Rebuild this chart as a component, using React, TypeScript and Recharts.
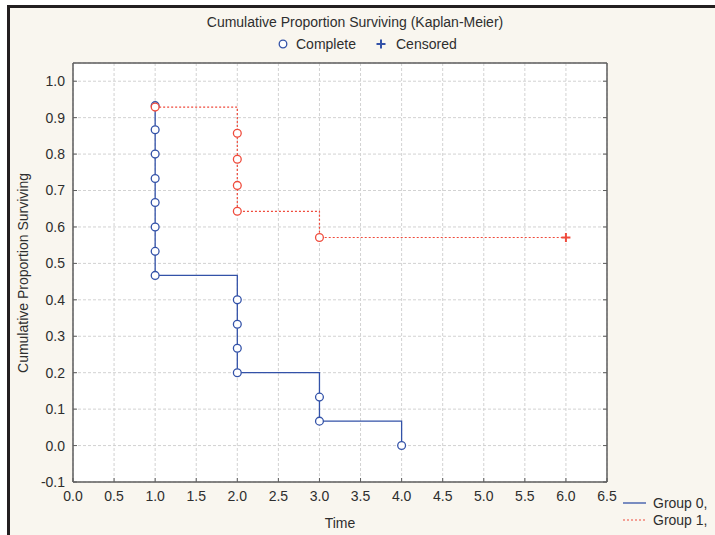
import React from 'react';
import { ComposedChart, Line, XAxis, YAxis, CartesianGrid } from 'recharts';

const group0Times = [1, 1, 1, 1, 1, 1, 1, 1, 2, 2, 2, 2, 3, 3, 4];
const group0Surv = [0.933, 0.867, 0.8, 0.733, 0.667, 0.6, 0.533, 0.467, 0.4, 0.333, 0.267, 0.2, 0.133, 0.067, 0.0];
const group0Censored = [0, 0, 0, 0, 0, 0, 0, 0, 0, 0, 0, 0, 0, 0, 0];

const group1Times = [1, 2, 2, 2, 2, 3, 6];
const group1Surv = [0.929, 0.857, 0.786, 0.714, 0.643, 0.571, 0.571];
const group1Censored = [0, 0, 0, 0, 0, 0, 1];

const xTicks = [0, 0.5, 1, 1.5, 2, 2.5, 3, 3.5, 4, 4.5, 5, 5.5, 6, 6.5];
const yTicks = [-0.1, 0, 0.1, 0.2, 0.3, 0.4, 0.5, 0.6, 0.7, 0.8, 0.9, 1.0];

const titleText = 'Cumulative Proportion Surviving (Kaplan-Meier)';
const legendComplete = 'Complete';
const legendCensored = 'Censored';
const groupNames = ['Group 0,', 'Group 1,'];
const xLabel = 'Time';
const yLabel = 'Cumulative Proportion Surviving';

const BLUE = '#3352a8';
const RED = '#ef4b3c';
const FONT = '"Liberation Sans", Arial, sans-serif';
const TEXT = '#2e2e2e';
const AXIS = '#5e5e5e';
const FS = 14;

const build = (times: number[], surv: number[], cens: number[]) =>
  times.map((t, i) => ({ t, s: surv[i], c: cens[i] }));

const data0 = build(group0Times, group0Surv, group0Censored);
const data1 = build(group1Times, group1Surv, group1Censored);

const makeDot = (color: string) => (props: any) => {
  const { cx, cy, payload, index } = props;
  if (cx == null || cy == null) return <g key={`d${index}`} />;
  if (payload && payload.c) {
    return (
      <g key={`d${index}`}>
        <line x1={cx - 4.5} x2={cx + 4.5} y1={cy} y2={cy} stroke={color} strokeWidth={2} />
        <line x1={cx} x2={cx} y1={cy - 4.5} y2={cy + 4.5} stroke={color} strokeWidth={2} />
      </g>
    );
  }
  return <circle key={`d${index}`} cx={cx} cy={cy} r={3.9} fill="#fff" stroke={color} strokeWidth={1.3} />;
};

const fmt = (v: number) => v.toFixed(1);
const blank = () => '';

export default function App() {
  return (
    <div style={{ position: 'absolute', left: 0, top: 0, width: 715, height: 535, background: '#fff', overflow: 'hidden' }}>
      <div
        style={{
          position: 'absolute',
          left: 7,
          top: 5,
          width: 715,
          height: 535,
          borderLeft: '3px solid #231f20',
          borderTop: '3px solid #231f20',
          background: '#f9f6ef',
        }}
      />
      <div style={{ position: 'absolute', left: 0, top: 0 }}>
        <ComposedChart
          width={715}
          height={535}
          margin={{ top: 43, right: 88, bottom: 3, left: 23 }}
          style={{ fontFamily: FONT }}
        >
          <CartesianGrid fill="#ffffff" stroke="#d2d2d2" strokeDasharray="3 2" />
          <XAxis
            type="number"
            dataKey="t"
            domain={[0, 6.5]}
            allowDataOverflow
            ticks={xTicks}
            tickFormatter={fmt}
            interval={0}
            height={50}
            tickSize={-4}
            tickMargin={13}
            axisLine={{ stroke: AXIS, strokeWidth: 1.5 }}
            tickLine={{ stroke: AXIS }}
            tick={{ fill: TEXT, fontSize: FS, fontFamily: FONT }}
          />
          <XAxis
            xAxisId="top"
            orientation="top"
            type="number"
            domain={[0, 6.5]}
            allowDataOverflow
            ticks={xTicks}
            tickFormatter={blank}
            interval={0}
            height={20}
            tickSize={-4}
            axisLine={{ stroke: AXIS, strokeWidth: 1.5 }}
            tickLine={{ stroke: AXIS }}
          />
          <YAxis
            type="number"
            domain={[-0.1, 1.05]}
            allowDataOverflow
            ticks={yTicks}
            tickFormatter={fmt}
            interval={0}
            width={50}
            tickSize={-4}
            tickMargin={12}
            axisLine={{ stroke: AXIS, strokeWidth: 1.5 }}
            tickLine={{ stroke: AXIS }}
            tick={{ fill: TEXT, fontSize: FS, fontFamily: FONT }}
          />
          <YAxis
            yAxisId="right"
            orientation="right"
            type="number"
            domain={[-0.1, 1.05]}
            allowDataOverflow
            ticks={yTicks}
            tickFormatter={blank}
            interval={0}
            width={20}
            tickSize={-4}
            axisLine={{ stroke: AXIS, strokeWidth: 1.5 }}
            tickLine={{ stroke: AXIS }}
          />
          <Line
            data={data0}
            dataKey="s"
            type="stepAfter"
            stroke={BLUE}
            strokeWidth={1.3}
            dot={makeDot(BLUE)}
            activeDot={false}
            isAnimationActive={false}
          />
          <Line
            data={data1}
            dataKey="s"
            type="stepAfter"
            stroke={RED}
            strokeWidth={1.2}
            strokeDasharray="2 2"
            dot={makeDot(RED)}
            activeDot={false}
            isAnimationActive={false}
          />
        </ComposedChart>
      </div>
      <svg
        width={715}
        height={535}
        style={{ position: 'absolute', left: 0, top: 0, pointerEvents: 'none' }}
        fontFamily={FONT}
        fontSize={FS}
        fill={TEXT}
      >
        <text x={355} y={27} textAnchor="middle">{titleText}</text>
        <circle cx={283} cy={44} r={3.8} fill="#fff" stroke={BLUE} strokeWidth={1.3} />
        <text x={296} y={49}>{legendComplete}</text>
        <line x1={376.5} x2={385.5} y1={44} y2={44} stroke={BLUE} strokeWidth={2} />
        <line x1={381} x2={381} y1={39.5} y2={48.5} stroke={BLUE} strokeWidth={2} />
        <text x={396} y={49}>{legendCensored}</text>
        <line x1={623} x2={646} y1={503} y2={503} stroke={BLUE} strokeWidth={1.3} />
        <text x={653} y={508}>{groupNames[0]}</text>
        <line x1={623} x2={646} y1={520} y2={520} stroke={RED} strokeWidth={1.2} strokeDasharray="2 2" />
        <text x={653} y={525}>{groupNames[1]}</text>
        <text x={340} y={528} textAnchor="middle">{xLabel}</text>
        <text transform="translate(28,273) rotate(-90)" textAnchor="middle">{yLabel}</text>
      </svg>
    </div>
  );
}
